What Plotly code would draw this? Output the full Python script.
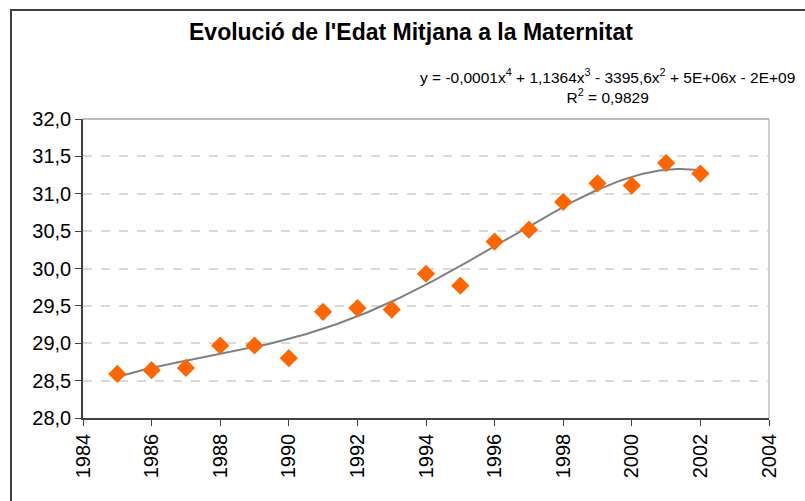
import numpy as np
import plotly.graph_objects as go

years = [1985, 1986, 1987, 1988, 1989, 1990, 1991, 1992, 1993,
         1994, 1995, 1996, 1997, 1998, 1999, 2000, 2001, 2002]
edat = [28.59, 28.64, 28.67, 28.97, 28.97, 28.80, 29.42, 29.47, 29.45,
        29.93, 29.77, 30.36, 30.52, 30.89, 31.14, 31.11, 31.41, 31.27]

title_text = "Evolució de l'Edat Mitjana a la Maternitat"
eq_text = ("y = -0,0001x<sup>4</sup> + 1,1364x<sup>3</sup> - 3395,6x<sup>2</sup>"
           " + 5E+06x - 2E+09<br>R<sup>2</sup> = 0,9829")

# polynomial (order 4) trendline computed from the data
xa = np.array(years, dtype=float)
xc = xa - xa.mean()
coef = np.polyfit(xc, np.array(edat), 4)
xt = np.linspace(xa.min(), xa.max(), 200)
yt = np.polyval(coef, xt - xa.mean())

fig = go.Figure()
fig.add_trace(go.Scatter(x=xt, y=yt, mode="lines",
                         line=dict(color="#808080", width=2),
                         hoverinfo="skip", showlegend=False))
fig.add_trace(go.Scatter(x=years, y=edat, mode="markers",
                         marker=dict(symbol="diamond", size=14, color="#FF6600",
                                     line=dict(width=0)),
                         showlegend=False))

L, R, T, B = 83, 769, 119, 418
W, H = 805, 501
pw, ph = R - L, B - T

def px(x):
    return (x - L) / pw

def py(y):
    return (B - y) / ph

fig.update_layout(
    width=W, height=H,
    margin=dict(l=L, r=W - R, t=T, b=H - B, pad=0),
    paper_bgcolor="white", plot_bgcolor="white",
    separators=", ",
    font=dict(family="Liberation Sans, Arial, sans-serif", color="black", size=20),
    showlegend=False,
    xaxis=dict(range=[1984, 2004], tickmode="linear", tick0=1984, dtick=2,
               tickformat="d", tickangle=-90, showgrid=False, zeroline=False,
               showline=True, linecolor="#404040", linewidth=1.5,
               ticks="outside", ticklen=6, tickcolor="#404040",
               tickfont=dict(size=20), mirror=False, automargin=False),
    yaxis=dict(range=[28, 32], tickmode="linear", tick0=28, dtick=0.5,
               tickformat=".1f", showgrid=True, gridcolor="#D9D9D9",
               griddash="dash", gridwidth=1.5, zeroline=False,
               showline=True, linecolor="#404040", linewidth=1.5,
               ticks="outside", ticklen=6, tickcolor="#404040",
               tickfont=dict(size=20), automargin=False),
    annotations=[
        dict(text="<b>" + title_text + "</b>", xref="paper", yref="paper",
             x=px(411), y=py(32), xanchor="center", yanchor="middle",
             showarrow=False, font=dict(size=23)),
        dict(text=eq_text, xref="paper", yref="paper",
             x=px(607), y=py(86), xanchor="center", yanchor="middle",
             showarrow=False, align="center", font=dict(size=15.5)),
    ],
    shapes=[
        # plot-area top and right borders
        dict(type="line", xref="paper", yref="paper", x0=0, x1=1, y0=1, y1=1,
             line=dict(color="#A6A6A6", width=1.5)),
        dict(type="line", xref="paper", yref="paper", x0=1, x1=1, y0=0, y1=1,
             line=dict(color="#C0C0C0", width=1.5)),
        # chart outer border
        dict(type="rect", xref="paper", yref="paper",
             x0=px(11), x1=px(820), y0=py(520), y1=py(10),
             line=dict(color="#404040", width=2)),
    ],
)

fig.write_html("out.html", config={"displayModeBar": False},
               post_script="document.body.style.margin='0';document.body.style.overflow='hidden';")
